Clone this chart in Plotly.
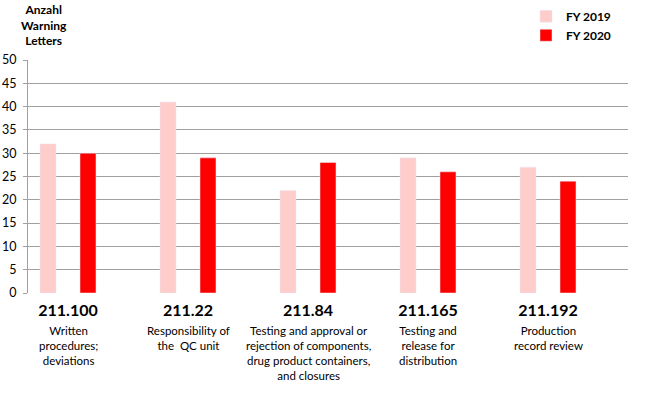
import plotly.graph_objects as go

codes = ["211.100", "211.22", "211.84", "211.165", "211.192"]
descriptions = [
    "Written<br>procedures;<br>deviations",
    "Responsibility of<br>the  QC unit",
    "Testing and approval or<br>rejection of components,<br>drug product containers,<br>and closures",
    "Testing and<br>release for<br>distribution",
    "Production<br>record review",
]
fy2019 = [32, 41, 22, 29, 27]
fy2020 = [30, 29, 28, 26, 24]
yticks = list(range(0, 51, 5))

FONT = "Lato, 'Open Sans', sans-serif"
pos = list(range(len(codes)))
ticktext = [f"<b>{c}</b>" for c in codes]

fig = go.Figure()
fig.add_trace(go.Bar(x=pos, y=fy2019, name="<b>FY 2019</b>", marker_color="#FFCCCC",
                     width=0.1333, offset=-1/6 - 0.0667))
fig.add_trace(go.Bar(x=pos, y=fy2020, name="<b>FY 2020</b>", marker_color="#FF0000",
                     width=0.1333, offset=1/6 - 0.0667))

annotations = [dict(
    text="<b>Anzahl<br>Warning<br>Letters</b>", xref="paper", yref="paper",
    x=(44 - 28) / 600, y=1.0 + 60 / 233, xanchor="center", yanchor="top",
    showarrow=False, font=dict(size=12), align="center",
)]
for p, d in zip(pos, descriptions):
    annotations.append(dict(
        text=d, xref="x", yref="paper", x=p, y=-(322 - 293) / 233,
        xanchor="center", yanchor="top", showarrow=False, align="center",
        font=dict(size=11.5),
    ))

fig.update_layout(
    width=650, height=394,
    margin=dict(l=28, r=22, t=60, b=101, autoexpand=False),
    plot_bgcolor="white", paper_bgcolor="white",
    font=dict(family=FONT, size=12, color="black"),
    barmode="overlay",
    showlegend=True,
    legend=dict(x=0.83, y=1.25, xanchor="left", yanchor="top",
                bgcolor="rgba(0,0,0,0)", font=dict(size=12),
                itemwidth=30, tracegroupgap=2),
    xaxis=dict(
        tickmode="array", tickvals=pos, ticktext=ticktext,
        range=[-1/3, 14/3], showgrid=False, zeroline=False,
        showline=False, ticks="", tickfont=dict(size=16),
        ticklabelstandoff=6, automargin=False,
    ),
    yaxis=dict(
        range=[0, 50], tickvals=yticks, showgrid=True, gridcolor="#A0A0A0",
        gridwidth=1, zeroline=False, showline=True, linecolor="#A0A0A0",
        ticks="outside", ticklen=4, tickcolor="#A0A0A0",
        tickfont=dict(size=12.5), ticklabelstandoff=4, automargin=False,
    ),
    annotations=annotations,
)

fig.write_html("out.html", config={"displayModeBar": False},
               post_script="document.body.style.margin='0';")
